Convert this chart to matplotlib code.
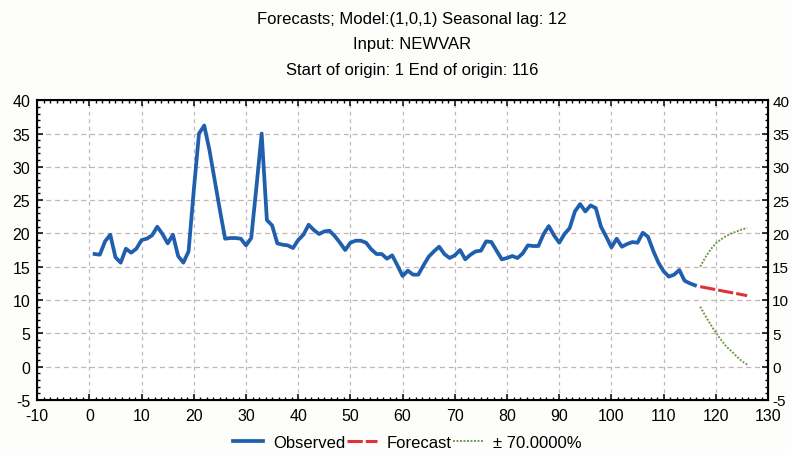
import matplotlib
matplotlib.use("Agg")
import matplotlib.pyplot as plt
import numpy as np
from matplotlib.ticker import MultipleLocator

plt.rcParams['font.family'] = ['Liberation Sans', 'DejaVu Sans']
plt.rcParams['axes.unicode_minus'] = False

# observed series NEWVAR, cases 1..116
observed = [
    16.9, 16.8, 18.8, 19.8, 16.4, 15.6, 17.7, 17.1, 17.7, 19.0,
    19.2, 19.7, 21.0, 19.9, 18.5, 19.8, 16.6, 15.6, 17.3, 26.5,
    35.0, 36.2, 32.5, 28.0, 23.5, 19.2, 19.3, 19.3, 19.2, 18.2,
    19.3, 27.0, 35.0, 22.0, 21.2, 18.5, 18.3, 18.2, 17.8, 19.0,
    19.8, 21.3, 20.5, 19.9, 20.3, 20.4, 19.6, 18.6, 17.5, 18.6,
    18.9, 18.9, 18.6, 17.6, 16.9, 16.9, 16.2, 16.7, 15.2, 13.6,
    14.4, 13.8, 13.8, 15.2, 16.5, 17.3, 18.0, 16.9, 16.3, 16.7,
    17.5, 16.1, 16.8, 17.3, 17.4, 18.8, 18.7, 17.4, 16.1, 16.3,
    16.6, 16.3, 17.0, 18.2, 18.1, 18.1, 19.9, 21.1, 19.7, 18.6,
    19.9, 20.8, 23.3, 24.4, 23.3, 24.2, 23.8, 21.0, 19.5, 17.9,
    19.2, 18.0, 18.4, 18.7, 18.6, 20.1, 19.5, 17.4, 15.6, 14.3,
    13.5, 13.8, 14.5, 12.9, 12.5, 12.2,
]
obs_t = np.arange(1, len(observed) + 1)

# forecasts for cases 117..126 with 70% limits
forecast = [12.0, 11.85, 11.7, 11.55, 11.4, 11.25, 11.1, 10.95, 10.8, 10.65]
upper = [15.0, 16.4, 17.6, 18.5, 19.1, 19.6, 20.0, 20.3, 20.6, 20.8]
lower = [9.0, 7.6, 6.3, 5.1, 4.0, 3.0, 2.3, 1.5, 0.8, 0.3]
fc_t = np.arange(117, 117 + len(forecast))

fig = plt.figure(figsize=(7.91, 4.56), dpi=100)
fig.patch.set_facecolor('#fdfdfb')
ax = fig.add_axes([0.047, 0.121, 0.924, 0.657])

ax.plot(obs_t, observed, color='#1f5fae', lw=2.7, label='Observed', zorder=3)
ax.plot(fc_t, forecast, color='#e0303a', lw=2.2, ls=(0, (5, 1.0)), label='Forecast', zorder=3)
ax.plot(fc_t, upper, color='#6f9a4a', lw=1.4, ls=(0, (1, 0.8)), label='\u00b1 70.0000%', zorder=3)
ax.plot(fc_t, lower, color='#6f9a4a', lw=1.4, ls=(0, (1, 0.8)), zorder=3)

ax.set_xlim(-10, 130)
ax.set_ylim(-5, 40)
ax.xaxis.set_major_locator(MultipleLocator(10))
ax.xaxis.set_minor_locator(MultipleLocator(1.25))
ax.yaxis.set_major_locator(MultipleLocator(5))
ax.yaxis.set_minor_locator(MultipleLocator(1))
ax.tick_params(which='both', direction='in', top=True, right=True, labelsize=11.5)
ax.tick_params(which='major', length=4, width=1.1)
ax.tick_params(which='minor', length=2.5, width=1.0)
ax.tick_params(axis='x', which='major', pad=6)
ax.tick_params(axis='y', which='major', pad=5)
ax.grid(True, which='major', axis='y', ls=(0, (4, 3)), color='#c9b2b6', lw=0.9)
ax.grid(True, which='major', axis='x', ls=(0, (3, 3)), color='#b9b9c3', lw=0.9)
for s in ax.spines.values():
    s.set_linewidth(1.5)

# duplicate value scale on the right side
ax2 = ax.twinx()
ax2.set_ylim(ax.get_ylim())
ax2.yaxis.set_major_locator(MultipleLocator(5))
ax2.yaxis.set_minor_locator(MultipleLocator(1))
ax2.tick_params(which='both', direction='in', labelsize=11)
ax2.tick_params(which='major', length=4, width=1.1, pad=3)
ax2.tick_params(which='minor', length=2.5, width=1.0)

fig.text(0.521, 0.958, 'Forecasts; Model:(1,0,1) Seasonal lag: 12', ha='center', va='center', fontsize=12)
fig.text(0.521, 0.902, 'Input: NEWVAR', ha='center', va='center', fontsize=12)
fig.text(0.521, 0.845, 'Start of origin: 1 End of origin: 116', ha='center', va='center', fontsize=12)

fig.legend(loc='center', bbox_to_anchor=(0.515, 0.028), ncol=3, frameon=False,
           fontsize=12, handlelength=1.8, columnspacing=0.1, handletextpad=0.6)

fig.savefig('out.png', dpi=100, facecolor=fig.get_facecolor())
